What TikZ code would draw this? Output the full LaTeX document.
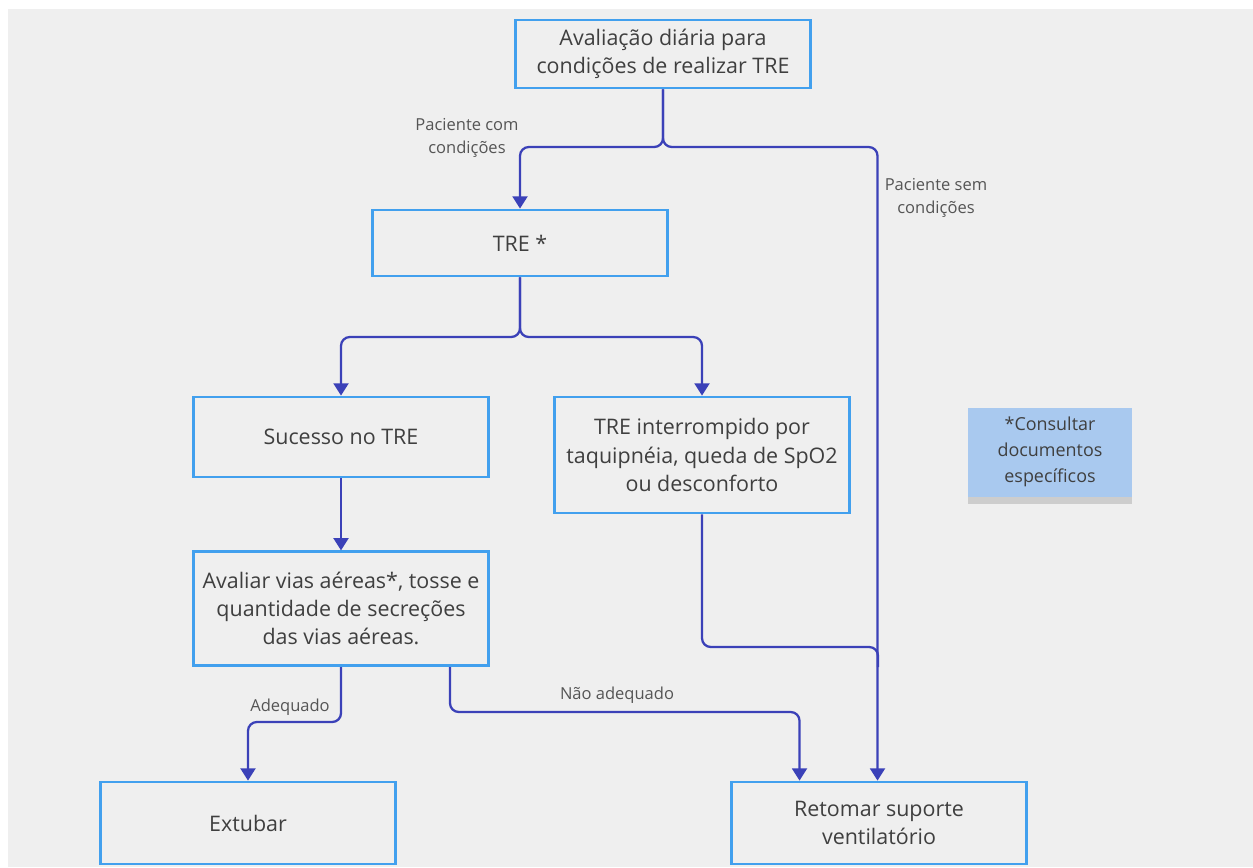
\documentclass[tikz,border=0pt]{standalone}
\usepackage{fontspec}
\setmainfont{Open Sans}
\usetikzlibrary{positioning, arrows.meta, shadows}

\definecolor{boxblue}{HTML}{42A0EE}
\definecolor{linkblue}{HTML}{3B41B8}
\definecolor{txtgray}{HTML}{3F3F3F}
\definecolor{lblgray}{HTML}{555555}
\definecolor{notefill}{HTML}{A9C9EF}
\definecolor{bggray}{HTML}{EFEFEF}

\begin{document}
\begin{tikzpicture}[x=0.02cm, y=-0.02cm,
node distance = 0mm and 12mm,% distances between nodes
   box/.style = {draw=boxblue, line width=1.6pt, minimum width=5.9cm,
                 align=center, text=txtgray, inner sep=2pt,
                 font=\fontsize{12.2}{16}\selectfont},
   arrow/.style = {draw=linkblue, line width=1.3pt, rounded corners=5pt,
                   -{Triangle[width=8.5pt,length=7pt]}},
   link/.style = {draw=linkblue, line width=1.3pt, rounded corners=5pt},
   lbl/.style = {align=center, text=lblgray,
                 font=\fontsize{9.4}{13}\selectfont}
                        ]
% page and background
\useasboundingbox (0,0) rectangle (1253,867);
\fill[white] (0,0) rectangle (1253,867);
\fill[bggray] (8,9) rectangle (1253,867);

% boxes
\node (avaliacao) [box, minimum height=1.36cm] at (663,54)
      {Avaliação diária para\\condições de realizar TRE};
\node (tre) [box, minimum height=1.32cm] at (520,243) {TRE *};
\node (sucesso) [box, minimum height=1.6cm] at (341,437) {Sucesso no TRE};
\node (interrompido) [box, minimum height=2.32cm] at (702,455)
      {TRE interrompido por\\taquipnéia, queda de SpO2\\ou desconforto};
\node (avaliar) [box, minimum height=2.28cm, below=1.44cm of sucesso]
      {Avaliar vias aéreas*, tosse e\\quantidade de secreções\\das vias aéreas.};
\node (extubar) [box, minimum height=1.64cm] at (248,823) {Extubar};
\node (retomar) [box, minimum height=1.64cm] at (879,823)
      {Retomar suporte\\ventilatório};
\node (nota) [fill=notefill, minimum width=3.28cm, minimum height=1.78cm,
      align=center, text=txtgray, font=\fontsize{10.2}{14.7}\selectfont,
      drop shadow={shadow xshift=0pt, shadow yshift=-4pt, opacity=0.3}]
      at (1050,452) {*Consultar\\documentos\\específicos};

% bend points
\coordinate (split1) at (663,147);
\coordinate (split2) at (520,337);
\coordinate (adeq) at (341,722);
\coordinate (naoadeq) at (450,712);
\coordinate (juncao) at (878,647);

% connectors
\draw [arrow] (avaliacao.south) -- (split1) -| (tre.north);
\draw [arrow] (avaliacao.south) -- (split1) -| ([xshift=-0.03cm]retomar.north);
\draw [arrow] (tre.south) -- (split2) -| (sucesso.north);
\draw [arrow] (tre.south) -- (split2) -| (interrompido.north);
\draw [arrow] (sucesso) -- (avaliar);
\draw [arrow] (avaliar.south) -- (adeq) -| (extubar.north);
\draw [arrow] (avaliar.south -| naoadeq) -- (naoadeq)
      -| ([xshift=-1.59cm]retomar.north);
\draw [link] (interrompido.south) |- (juncao) -- ([yshift=-0.4cm]juncao);

% labels
\node (lblcom) [lbl] at (467,138) {Paciente com\\condições};
\node (lblsem) [lbl] at (936,198) {Paciente sem\\condições};
\node (lbladeq) [lbl] at (290,707) {Adequado};
\node (lblnao) [lbl] at (617,695) {Não adequado};
\end{tikzpicture}
\end{document}
